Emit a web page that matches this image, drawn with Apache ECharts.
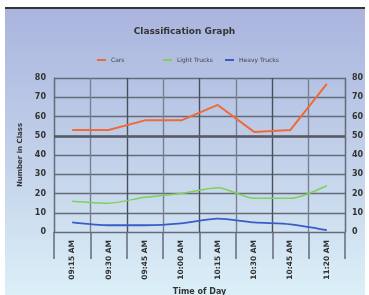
<!DOCTYPE html>
<html>
<head>
	<meta charset="utf-8">
	<title></title>
</head>
<body style="margin: 0; background: #fff">
<div style="position: absolute; left: 5px; top: 7px; width: 360px; height: 288px; border-top: 2px solid #333; background: linear-gradient(#aab4de, #c4d3ea 55%, #dcf0f8);"></div>
<div id="container" style="position: absolute; left: 0; top: 0; width: 369px; height: 295px"></div>

<script src="https://cdn.jsdelivr.net/npm/echarts@6/dist/echarts.min.js"></script>

<script type="text/javascript">
	var times = ['09:15 AM', '09:30 AM', '09:45 AM', '10:00 AM', '10:15 AM', '10:30 AM', '10:45 AM', '11:20 AM'];
	var cars = [53, 53, 58, 58, 66, 52, 53, 77];
	var lightTrucks = [16, 15, 18, 20, 23, 17.5, 17.5, 24];
	var heavyTrucks = [5, 3.5, 3.5, 4.5, 7, 5, 4, 1];

	var gridColor = '#656b7a';
	var dom = document.getElementById('container');
	var myChart = echarts.init(dom, null, { renderer: 'canvas' });

	var yLabel = { fontSize: 8, fontWeight: 'bold', color: '#333', fontFamily: 'DejaVu Sans' };
	var legendText = { fontSize: 6, color: '#444', fontFamily: 'DejaVu Sans' };

	// one legend per item, the gaps in the picture are not even
	function legendAt(name, x) {
		return {
			top: 52, left: x, itemWidth: 9, itemHeight: 2, itemGap: 4,
			icon: 'rect', textStyle: legendText, data: [name]
		};
	}

	var option = {
		backgroundColor: 'transparent',
		animation: false,
		title: {
			text: 'Classification Graph',
			left: 'center',
			top: 22,
			textStyle: { fontSize: 9, fontWeight: 'bold', color: '#333', fontFamily: 'DejaVu Sans' }
		},
		legend: [
			legendAt('Cars', 92),
			legendAt('Light Trucks', 158),
			legendAt('Heavy Trucks', 220)
		],
		grid: { left: 54, right: 24, top: 78, bottom: 63, outerBoundsMode: 'none', containLabel: false },
		xAxis: {
			type: 'category',
			data: times,
			boundaryGap: true,
			name: 'Time of Day',
			nameLocation: 'middle',
			nameGap: 56,
			nameTextStyle: { fontSize: 8, fontWeight: 'bold', color: '#333', fontFamily: 'DejaVu Sans' },
			axisLine: { lineStyle: { color: gridColor, width: 1 } },
			axisTick: { show: true, length: 27, lineStyle: { color: gridColor, width: 1.5 } },
			axisLabel: { rotate: 90, fontSize: 7.5, fontWeight: 'bold', color: '#333', margin: 8, fontFamily: 'DejaVu Sans' },
			splitLine: { show: true, lineStyle: { color: ['#4a4f5c', '#7a8090'], width: 1.4 } }
		},
		yAxis: [
			{
				type: 'value', min: 0, max: 80, interval: 10,
				name: 'Number in Class',
				nameLocation: 'middle',
				nameGap: 25,
				nameTextStyle: { fontSize: 7, fontWeight: 'bold', color: '#333', fontFamily: 'DejaVu Sans' },
				axisLine: { show: true, lineStyle: { color: gridColor } },
				axisTick: { show: false },
				axisLabel: Object.assign({ margin: 8 }, yLabel),
				splitLine: { show: true, lineStyle: { color: gridColor, width: 1.4 } }
			},
			{
				type: 'value', min: 0, max: 80, interval: 10,
				position: 'right',
				axisLine: { show: true, lineStyle: { color: gridColor } },
				axisTick: { show: false },
				axisLabel: Object.assign({ margin: 7 }, yLabel),
				splitLine: { show: false }
			}
		],
		series: [
			{
				name: 'Cars', type: 'line', data: cars,
				symbol: 'none', color: '#f06a38',
				lineStyle: { width: 2 },
				markLine: {
					silent: true, symbol: 'none', label: { show: false },
					lineStyle: { color: '#555a66', width: 2.5, type: 'solid' },
					data: [{ yAxis: 50 }]
				},
				z: 5
			},
			{
				name: 'Light Trucks', type: 'line', data: lightTrucks,
				symbol: 'none', color: '#80cf5c', smooth: 0.25,
				lineStyle: { width: 1.5 }
			},
			{
				name: 'Heavy Trucks', type: 'line', data: heavyTrucks,
				symbol: 'none', color: '#3a5cc8', smooth: 0.25,
				lineStyle: { width: 1.8 }
			}
		]
	};

	myChart.setOption(option);
	window.addEventListener('resize', myChart.resize);
</script>
</body>
</html>
